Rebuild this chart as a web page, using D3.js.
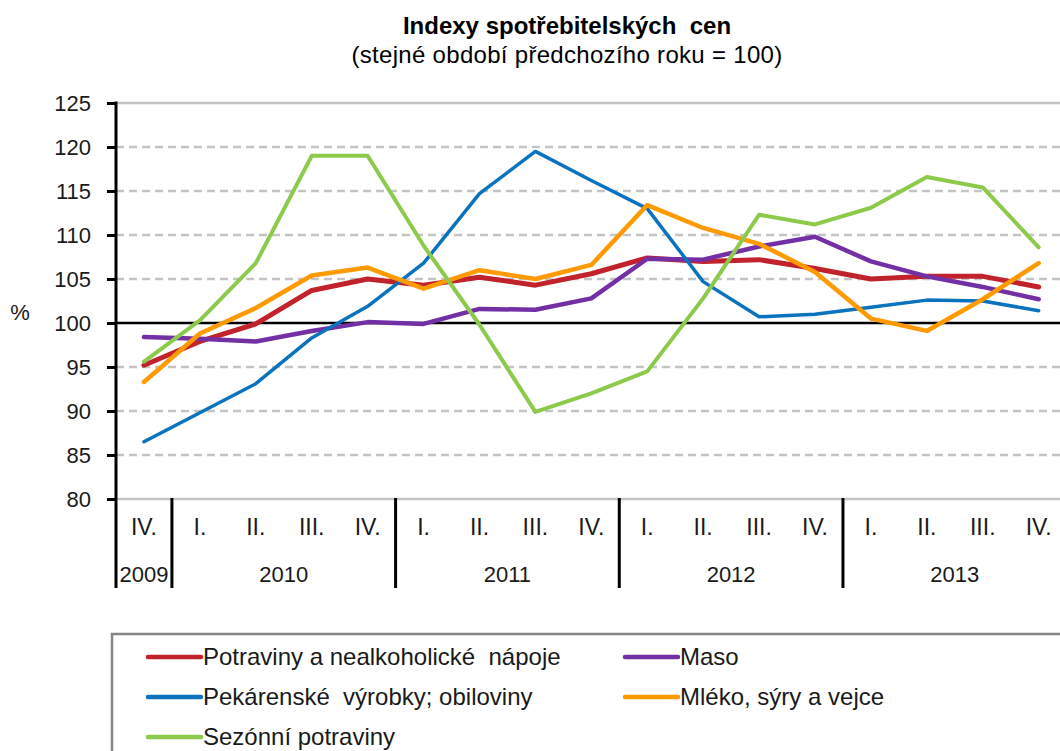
<!DOCTYPE html>
<html>
<head>
<meta charset="utf-8">
<script src="https://cdn.jsdelivr.net/npm/d3@7"></script>
<style>
  body { margin: 0; background: #fff; }
  svg { font-family: "Liberation Sans", Arial, sans-serif; }
  svg text { white-space: pre; }
</style>
</head>
<body>
<div id="chart"></div>
<script>
// Data
const quarters = ["IV.", "I.", "II.", "III.", "IV.", "I.", "II.", "III.", "IV.",
                  "I.", "II.", "III.", "IV.", "I.", "II.", "III.", "IV."];
const years = ["2009", "2010", "2011", "2012", "2013"];
const yearSpans = [1, 4, 4, 4, 4];
const yTicks = [80, 85, 90, 95, 100, 105, 110, 115, 120, 125];

const potraviny = [95.2, 97.9, 99.9, 103.7, 105.0, 104.3, 105.2, 104.3, 105.6,
                   107.4, 107.0, 107.2, 106.2, 105.0, 105.3, 105.3, 104.1];
const maso = [98.4, 98.2, 97.9, 99.1, 100.1, 99.9, 101.6, 101.5, 102.8,
              107.3, 107.2, 108.7, 109.8, 107.0, 105.3, 104.1, 102.7];
const pekarenske = [86.5, 89.8, 93.1, 98.3, 101.9, 106.8, 114.7, 119.5, 116.2,
                    113.0, 104.7, 100.7, 101.0, 101.8, 102.6, 102.5, 101.4];
const mleko = [93.3, 98.8, 101.7, 105.4, 106.3, 103.9, 106.0, 105.0, 106.6,
               113.4, 110.8, 109.0, 105.8, 100.5, 99.1, 102.7, 106.8];
const sezonni = [95.6, 100.3, 106.8, 119.0, 119.0, 108.8, 99.8, 89.9, 92.0,
                 94.5, 102.8, 112.3, 111.2, 113.1, 116.6, 115.4, 108.6];

const series = [
  { name: "Potraviny a nealkoholické  nápoje", values: potraviny, color: "#c1222b", width: 5 },
  { name: "Maso", values: maso, color: "#7330a4", width: 4.5 },
  { name: "Pekárenské  výrobky; obiloviny", values: pekarenske, color: "#0b72be", width: 3.5 },
  { name: "Mléko, sýry a vejce", values: mleko, color: "#ff9a00", width: 4.5 },
  { name: "Sezónní potraviny", values: sezonni, color: "#8dc94a", width: 4 }
];

const w = 1060, h = 751;

const svg = d3.select("#chart").append("svg")
  .attr("width", w)
  .attr("height", h);

// Scales
const x = d3.scaleBand()
  .domain(d3.range(quarters.length))
  .range([116, 116 + quarters.length * 55.92]);

const y = d3.scaleLinear()
  .domain([80, 125])
  .range([499, 103]);

const xc = i => x(i) + x.bandwidth() / 2;

// Title
svg.append("text")
  .attr("x", 567).attr("y", 34)
  .attr("text-anchor", "middle")
  .attr("font-size", 24).attr("font-weight", "bold")
  .text("Indexy spotřebitelských  cen");

svg.append("text")
  .attr("x", 567).attr("y", 63)
  .attr("text-anchor", "middle")
  .attr("font-size", 24)
  .attr("letter-spacing", 0.3)
  .text("(stejné období předchozího roku = 100)");

// Gridlines
svg.append("g")
  .selectAll("line")
  .data(yTicks.filter(d => d !== 100))
  .join("line")
    .attr("x1", x.range()[0]).attr("x2", x.range()[1])
    .attr("y1", d => y(d)).attr("y2", d => y(d))
    .attr("stroke", "#c4c4c4")
    .attr("stroke-width", 2.5)
    .attr("stroke-dasharray", d => (d === 80 || d === 125) ? null : "8,5");

// 100 baseline
svg.append("line")
  .attr("x1", x.range()[0]).attr("x2", x.range()[1])
  .attr("y1", y(100)).attr("y2", y(100))
  .attr("stroke", "#000")
  .attr("stroke-width", 2.5);

// Y axis
const yAxis = svg.append("g")
  .attr("transform", `translate(${x.range()[0]},0)`)
  .call(d3.axisLeft(y).tickValues(yTicks).tickSize(9).tickPadding(16));

yAxis.select(".domain").remove();
yAxis.selectAll(".tick line").attr("stroke", "#000").attr("stroke-width", 3);
yAxis.selectAll(".tick text")
  .attr("font-size", 22)
  .attr("font-family", "Liberation Sans, Arial, sans-serif")
  .attr("fill", "#1a1a1a");

svg.append("line")
  .attr("x1", x.range()[0]).attr("x2", x.range()[0])
  .attr("y1", y(125) - 1.5).attr("y2", 588)
  .attr("stroke", "#000").attr("stroke-width", 3);

svg.append("text")
  .attr("x", 20).attr("y", 320)
  .attr("text-anchor", "middle")
  .attr("font-size", 22)
  .attr("fill", "#1a1a1a")
  .text("%");

// X axis: quarter labels
const xAxis = svg.append("g")
  .attr("transform", `translate(0,${y(80)})`)
  .call(d3.axisBottom(x).tickSize(0).tickPadding(20).tickFormat(i => quarters[i]));

xAxis.select(".domain").remove();
xAxis.selectAll(".tick text")
  .attr("font-size", 23)
  .attr("font-family", "Liberation Sans, Arial, sans-serif")
  .attr("fill", "#1a1a1a");

// Year separators and year labels
const starts = d3.cumsum([0].concat(yearSpans)).slice(0, years.length);
svg.append("g")
  .selectAll("line")
  .data(starts.slice(1))
  .join("line")
    .attr("x1", d => x(d)).attr("x2", d => x(d))
    .attr("y1", y(80) - 1).attr("y2", 588)
    .attr("stroke", "#000").attr("stroke-width", 3);

svg.append("g")
  .selectAll("text")
  .data(years)
  .join("text")
    .attr("x", (d, i) => x(starts[i]) + yearSpans[i] * x.step() / 2)
    .attr("y", 582)
    .attr("text-anchor", "middle")
    .attr("font-size", 22)
    .attr("fill", "#1a1a1a")
    .text(d => d);

// Lines
const line = d3.line()
  .x((d, i) => xc(i))
  .y(d => y(d));

svg.append("g")
  .selectAll("path")
  .data(series)
  .join("path")
    .attr("d", d => line(d.values))
    .attr("fill", "none")
    .attr("stroke", d => d.color)
    .attr("stroke-width", d => d.width)
    .attr("stroke-linejoin", "round")
    .attr("stroke-linecap", "round");

// Legend
svg.append("rect")
  .attr("x", 112).attr("y", 634)
  .attr("width", 1000).attr("height", 200)
  .attr("fill", "none")
  .attr("stroke", "#858585")
  .attr("stroke-width", 2.5);

const legendPos = [
  { x: 148, y: 657 }, { x: 625, y: 657 },
  { x: 148, y: 697 }, { x: 625, y: 697 },
  { x: 148, y: 737 }
];

const legend = svg.append("g")
  .selectAll("g")
  .data(series)
  .join("g")
    .attr("transform", (d, i) => `translate(${legendPos[i].x},${legendPos[i].y})`);

legend.append("line")
  .attr("x1", 0).attr("x2", 53)
  .attr("stroke", d => d.color)
  .attr("stroke-width", 4.5)
  .attr("stroke-linecap", "round");

legend.append("text")
  .attr("x", 55).attr("y", 8)
  .attr("font-size", 24)
  .attr("fill", "#1a1a1a")
  .text(d => d.name);
</script>
</body>
</html>
